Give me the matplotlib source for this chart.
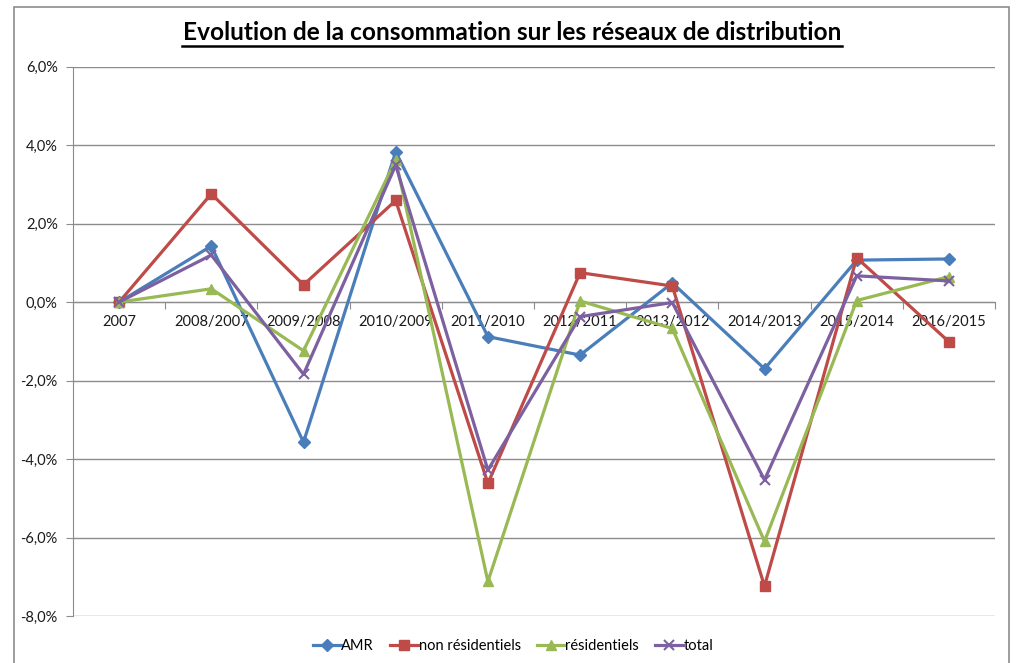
import matplotlib
matplotlib.use("Agg")
import matplotlib.pyplot as plt
from matplotlib.patches import Rectangle
from matplotlib.ticker import FuncFormatter, FixedLocator

plt.rcParams['font.family'] = ['Lato', 'DejaVu Sans']

categories = ["2007", "2008/2007", "2009/2008", "2010/2009", "2011/2010",
              "2012/2011", "2013/2012", "2014/2013", "2015/2014", "2016/2015"]
amr = [0.0, 1.43, -3.57, 3.83, -0.88, -1.35, 0.49, -1.70, 1.07, 1.10]
non_residentiels = [0.0, 2.76, 0.44, 2.59, -4.62, 0.75, 0.41, -7.24, 1.13, -1.01]
residentiels = [0.0, 0.34, -1.24, 3.62, -7.12, 0.03, -0.67, -6.10, 0.04, 0.65]
total = [0.0, 1.20, -1.84, 3.49, -4.28, -0.37, -0.01, -4.53, 0.67, 0.54]
yticks = [-8, -6, -4, -2, 0, 2, 4, 6]

fig = plt.figure(figsize=(10.18, 6.63), dpi=100)
W, H = 1018, 663
ax = fig.add_axes([73 / W, 1 - 616 / H, (995 - 73) / W, (616 - 66.7) / H])

x = list(range(len(categories)))
series = [
    ("AMR", amr, "#4A7EBB", "D", 6),
    ("non résidentiels", non_residentiels, "#BE4B48", "s", 7),
    ("résidentiels", residentiels, "#98B954", "^", 7),
    ("total", total, "#7D60A0", "x", 7),
]
for name, vals, col, mk, ms in series:
    ax.plot(x, vals, color=col, lw=2.3, marker=mk, ms=ms, mec=col, mfc=col,
            mew=1.5 if mk == "x" else 1, label=name, zorder=3)

ax.set_xlim(-0.5, len(categories) - 0.5)
ax.set_ylim(-8, 6)
ax.set_yticks(yticks)
ax.yaxis.set_major_formatter(FuncFormatter(lambda v, p: f"{v:.1f}%".replace(".", ",")))
ax.grid(axis='y', color='#8C8C8C', lw=1, zorder=0)

# category axis at zero
ax.spines['bottom'].set_position(('data', 0))
ax.spines['bottom'].set_color('#8C8C8C')
ax.spines['left'].set_color('#8C8C8C')
ax.spines['top'].set_visible(False)
ax.spines['right'].set_visible(False)
ax.xaxis.set_major_locator(FixedLocator([i - 0.5 for i in range(len(categories) + 1)]))
ax.xaxis.set_major_formatter(FuncFormatter(lambda v, p: ""))
ax.xaxis.set_minor_locator(FixedLocator(x))
ax.set_xticklabels(categories, minor=True)
ax.tick_params(axis='x', which='major', length=5, color='#8C8C8C', direction='out')
ax.tick_params(axis='x', which='minor', length=0, pad=9, labelsize=10.5, labelcolor='#1a1a1a')
ax.tick_params(axis='y', length=5, color='#8C8C8C', labelsize=10.5, labelcolor='#1a1a1a', pad=6)

fig.text(0.503, 1 - 33 / H, "Evolution de la consommation sur les réseaux de distribution",
         ha='center', va='center', fontsize=17.6, fontweight='bold')
# underline
fig.add_artist(plt.Line2D([182 / W, 842 / W], [1 - 45.5 / H, 1 - 45.5 / H], color='black', lw=1.8))

leg = fig.legend(loc='center', bbox_to_anchor=(0.504, 1 - 646 / H), ncol=4, frameon=False,
                 fontsize=10.5, handlelength=1.9, handletextpad=0.05, columnspacing=1.1)

fig.add_artist(Rectangle((14 / W, -0.05), (1009 - 14) / W, 1 - 7 / H + 0.05,
                         transform=fig.transFigure, fill=False, ec='#8C8C8C', lw=1.2))

fig.savefig("out.png", dpi=100)
